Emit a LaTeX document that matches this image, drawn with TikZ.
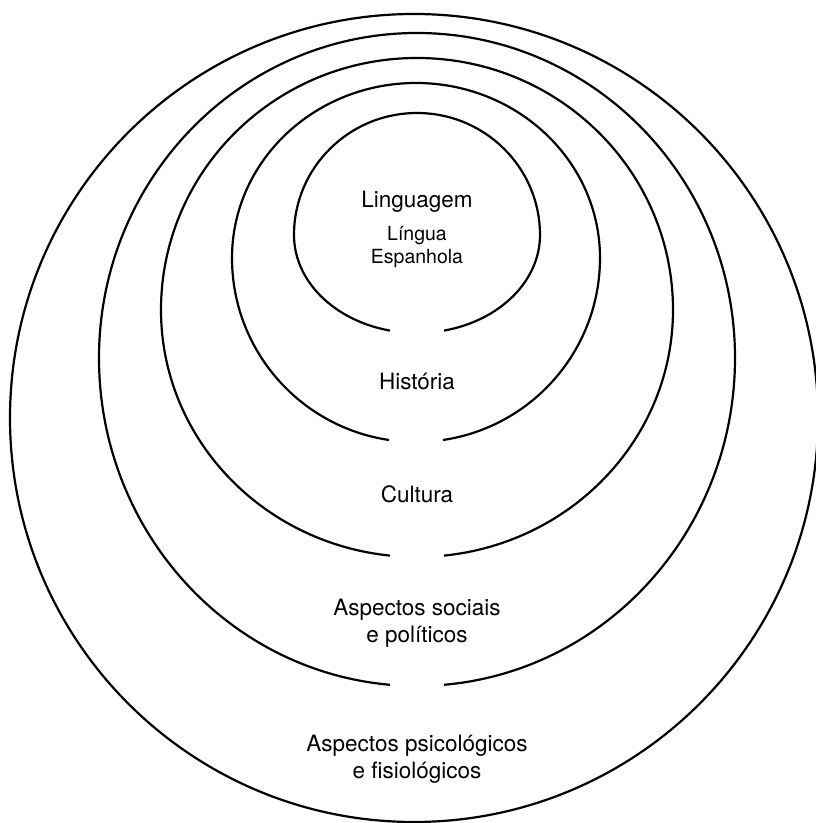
\documentclass[tikz,border=0pt]{standalone}
\usepackage{fontspec}
\setmainfont{TeX Gyre Heros}
\begin{document}
\begin{tikzpicture}[x=1pt,y=1pt,
  anel/.style={line width=2.2pt},
  rotulo/.style={anchor=base,align=center,inner sep=0pt,font=\fontsize{22.5}{27}\selectfont},
  rotulop/.style={rotulo,font=\fontsize{19.5}{23.5}\selectfont}]
\useasboundingbox (0,0) rectangle (816,823);
% aneis abertos em baixo
\foreach \cx/\cy/\rx/\rt/\rb in {417/588/123/122/98, 416/565/184/175/184, 417/513/256/252/247, 417/465/318/325/328}{
  \pgfmathsetmacro{\d}{asin(27/\rx)}
  \draw[anel] (\cx,\cy) ++(270-\d:\rx pt and \rb pt)
    arc[start angle=270-\d, end angle=180, x radius=\rx pt, y radius=\rb pt]
    arc[start angle=180, end angle=0, x radius=\rx pt, y radius=\rt pt]
    arc[start angle=0, end angle=-90+\d, x radius=\rx pt, y radius=\rb pt];
}
% anel de fora, fechado
\draw[anel] (414,405) ellipse[x radius=404pt, y radius=404pt];
% rotulos (base = ultima linha)
\node[rotulo] (linguagem) at (417,615) {Linguagem};
\node[rotulop] (lingua) at (417,559) {Língua\\Espanhola};
\node[rotulo] (historia) at (417,433) {História};
\node[rotulo] (cultura) at (417,320) {Cultura};
\node[rotulo] (sociais) at (417,180) {Aspectos sociais\\e políticos};
\node[rotulo] (psico) at (417,45) {Aspectos psicológicos\\e fisiológicos};
\end{tikzpicture}
\end{document}
